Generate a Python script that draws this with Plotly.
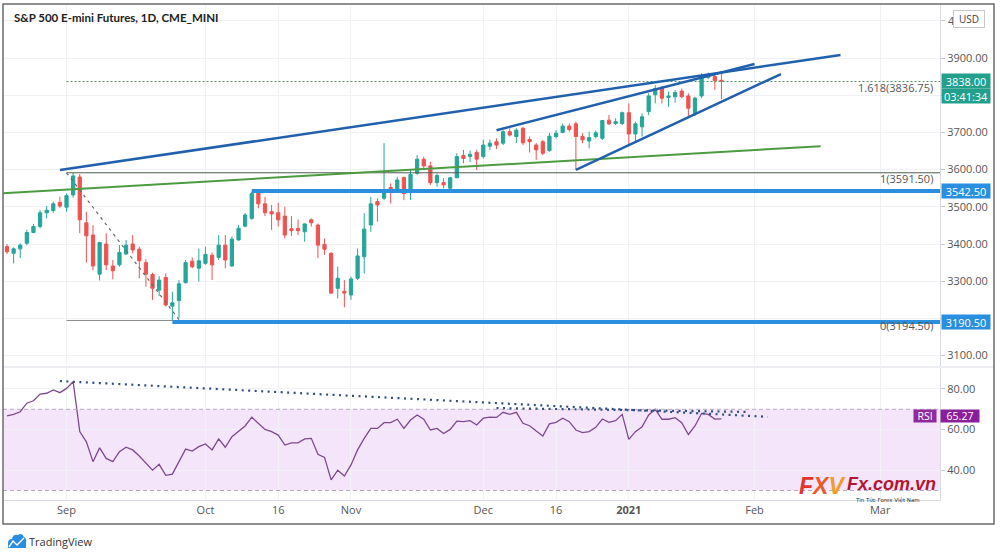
import plotly.graph_objects as go
import pandas as pd

# ---------------- calendar / categories ----------------
HOLIDAYS = ["2020-09-07", "2020-11-26", "2020-12-25", "2021-01-01", "2021-01-18", "2021-02-15"]
calendar = [d.strftime("%Y-%m-%d") for d in pd.bdate_range("2020-08-18", "2021-03-19")]
calendar = [d for d in calendar if d not in HOLIDAYS]
pos = {d: i for i, d in enumerate(calendar)}

dates = calendar[1:110]  # 2020-08-19 .. 2021-01-25

opens = [3393, 3375, 3387, 3402, 3431, 3447, 3484, 3490, 3512, 3499,
         3532, 3580, 3457, 3424, 3319, 3400, 3341, 3344, 3373, 3400,
         3386, 3350, 3318, 3276, 3310, 3233, 3248, 3296, 3354, 3335,
         3348, 3370, 3364, 3397, 3341, 3411, 3448, 3469, 3538, 3508,
         3487, 3484, 3475, 3441, 3442, 3433, 3465, 3451, 3399, 3375,
         3281, 3273, 3263, 3308, 3366, 3451, 3514, 3523, 3552, 3545,
         3579, 3545, 3590, 3628, 3610, 3565, 3565, 3550, 3578, 3638,
         3635, 3646, 3635, 3663, 3675, 3671, 3702, 3689, 3711, 3681,
         3666, 3675, 3651, 3689, 3700, 3717, 3723, 3689, 3677, 3689,
         3684, 3733, 3724, 3724, 3753, 3696, 3715, 3756, 3801, 3821,
         3794, 3796, 3811, 3798, 3751, 3798, 3848, 3850, 3840]
highs = [3400, 3391, 3402, 3438, 3454, 3491, 3502, 3514, 3527, 3536,
         3591.5, 3588, 3487, 3451, 3406, 3429, 3357, 3397, 3411, 3424,
         3393, 3359, 3323, 3314, 3321, 3272, 3303, 3357, 3364, 3388,
         3393, 3377, 3424, 3424, 3420, 3451, 3483, 3541, 3545, 3527,
         3505, 3511, 3500, 3475, 3466, 3456, 3469, 3455, 3415, 3378,
         3339, 3303, 3312, 3388, 3483, 3527, 3523, 3671, 3563, 3581,
         3581, 3599, 3639, 3635, 3621, 3590, 3577, 3581, 3644, 3653,
         3651, 3653, 3680, 3681, 3684, 3706, 3711, 3711, 3715, 3689,
         3671, 3680, 3698, 3706, 3724, 3724, 3729, 3698, 3702, 3705,
         3733, 3747, 3738, 3756, 3778, 3729, 3751, 3805, 3827, 3825,
         3810, 3814, 3818, 3805, 3796, 3859, 3861, 3857, 3859]
lows = [3373, 3348, 3362, 3397, 3429, 3442, 3469, 3484, 3496, 3487,
        3525, 3429, 3350, 3330, 3302, 3330, 3305, 3339, 3371, 3375,
        3308, 3285, 3250, 3260, 3232, 3194.5, 3201, 3294, 3335, 3299,
        3344, 3303, 3357, 3335, 3339, 3409, 3445, 3465, 3496, 3475,
        3438, 3447, 3415, 3422, 3424, 3406, 3447, 3362, 3371, 3266,
        3254, 3230, 3250, 3303, 3321, 3433, 3460, 3518, 3509, 3541,
        3518, 3518, 3586, 3599, 3559, 3554, 3550, 3545, 3577, 3617,
        3621, 3599, 3630, 3653, 3655, 3666, 3689, 3671, 3666, 3646,
        3626, 3639, 3648, 3684, 3698, 3702, 3599, 3671, 3657, 3684,
        3680, 3720, 3720, 3720, 3663, 3675, 3689, 3747, 3778, 3778,
        3769, 3780, 3792, 3744, 3744, 3792, 3843, 3814, 3789]
closes = [3379, 3387, 3397, 3431, 3447, 3484, 3491, 3508, 3502, 3530,
          3583, 3465, 3422, 3341, 3404, 3344, 3328, 3377, 3397, 3384,
          3355, 3319, 3281, 3303, 3236, 3242, 3293, 3350, 3339, 3355,
          3372, 3344, 3397, 3357, 3413, 3442, 3478, 3536, 3508, 3484,
          3481, 3465, 3424, 3436, 3436, 3454, 3457, 3397, 3386, 3268,
          3308, 3268, 3306, 3368, 3440, 3508, 3505, 3543, 3543, 3572,
          3536, 3587, 3628, 3610, 3565, 3584, 3559, 3578, 3635, 3630,
          3641, 3628, 3666, 3671, 3666, 3702, 3693, 3706, 3672, 3675,
          3653, 3644, 3690, 3698, 3717, 3708, 3689, 3680, 3686, 3699,
          3732, 3723, 3729, 3753, 3696, 3723, 3742, 3798, 3818, 3792,
          3798, 3807, 3796, 3765, 3792, 3850, 3854, 3839, 3838]
rsi = [66.7, 67.5, 68.8, 73.0, 74.2, 77.5, 77.9, 79.5, 78.2, 80.3,
       83.6, 59.0, 54.0, 44.2, 51.0, 45.8, 44.2, 49.1, 51.3, 50.0,
       47.0, 43.7, 40.0, 42.9, 37.5, 38.1, 44.2, 50.4, 49.4, 51.6,
       52.9, 50.0, 55.4, 51.3, 56.5, 59.0, 61.8, 66.1, 63.1, 60.1,
       59.0, 57.3, 52.4, 53.5, 53.5, 55.4, 55.7, 47.8, 46.3, 35.2,
       40.0, 37.1, 42.6, 50.0, 55.7, 60.6, 60.6, 63.4, 63.4, 65.1,
       60.6, 64.7, 67.2, 65.1, 59.8, 60.6, 58.1, 60.1, 64.2, 63.9,
       64.4, 62.3, 65.6, 66.1, 66.0, 68.5, 67.5, 68.5, 63.1, 61.9,
       59.3, 56.8, 62.8, 63.6, 65.6, 63.9, 59.8, 58.5, 59.0, 61.1,
       65.2, 63.6, 64.4, 67.5, 55.2, 59.0, 61.4, 67.2, 70.0, 65.1,
       65.1, 65.9, 63.4, 57.6, 61.8, 68.0, 67.5, 65.2, 65.27]

tick_dates = ["2020-09-01", "2020-10-01", "2020-10-16", "2020-11-02", "2020-12-01",
              "2020-12-16", "2021-01-04", "2021-02-01", "2021-03-01"]
tick_labels = ["Sep", "Oct", "16", "Nov", "Dec", "16", "<b>2021</b>", "Feb", "Mar"]
price_ticks = [3100, 3200, 3300, 3400, 3500, 3600, 3700, 3800, 3900, 4000]
hidden_price_ticks = [3200, 3800, 4000]  # covered by the axis labels in the reference
rsi_ticks = [40, 60, 80]

# drawings (date, value) pairs
upper_channel = (["2020-08-31", "2021-02-19"], [3599, 3908])
wedge_top = (["2020-12-03", "2021-02-01"], [3706, 3884])
wedge_bottom = (["2020-12-21", "2021-02-05"], [3599, 3857])
green_trend = (["2020-08-18", "2021-02-16"], [3536, 3663])
fib_diagonal = (["2020-09-01", "2020-09-25"], [3591.5, 3197])
fib_start = "2020-09-01"
fib_levels = [3591.5, 3836.75, 3194.5]
fib_labels = ["1(3591.50)", "1.618(3836.75)", "0(3194.50)"]
support_levels = [3542.5, 3190.5]
support_starts = ["2020-10-12", "2020-09-24"]
last_price = 3838.00
countdown = "03:41:34"
rsi_last = 65.27
rsi_upper, rsi_lower = 70, 30
rsi_line_a = (["2020-08-31", "2021-02-03"], [83.9, 66.3])
rsi_line_b = (["2020-12-03", "2021-01-29"], [70.6, 68.7])

# ---------------- styling / layout geometry ----------------
W, H = 1000, 558
PL, PR, PT, PB = 3, 940, 5, 500
X_MIN, X_MAX = 0.396, 142.04
Y_RANGE = [3072.1, 4042.5]
RSI_RANGE = [25.32, 90.34]
PRICE_DOM = [(PB - 366) / (PB - PT), 1]
RSI_DOM = [0, (PB - 368) / (PB - PT)]

GREEN = "#26a69a"
RED = "#ef5350"
GRID = "#f0f2f6"
AXLINE = "#d9dce3"
FONT = "Open Sans"


def px(xp):
    return (xp - PL) / (PR - PL)


def py(yp):
    return (PB - yp) / (PB - PT)


x = [pos[d] for d in dates]

fig = go.Figure()
fig.add_trace(go.Candlestick(
    x=x, open=opens, high=highs, low=lows, close=closes,
    increasing=dict(line=dict(color=GREEN, width=1), fillcolor=GREEN),
    decreasing=dict(line=dict(color=RED, width=1), fillcolor=RED),
    whiskerwidth=0, xaxis="x", yaxis="y", showlegend=False, hoverinfo="skip"))
fig.add_trace(go.Scatter(
    x=x, y=rsi, mode="lines", line=dict(color="#7e4a8e", width=1.3),
    xaxis="x2", yaxis="y2", showlegend=False, hoverinfo="skip"))

shapes = []
# RSI band
shapes.append(dict(type="rect", xref="paper", yref="y2", x0=0, x1=1, y0=rsi_lower, y1=rsi_upper,
                   fillcolor="#f4e5fb", line=dict(width=0), layer="below"))
for lv in (rsi_upper, rsi_lower):
    shapes.append(dict(type="line", xref="paper", yref="y2", x0=0, x1=1, y0=lv, y1=lv,
                       line=dict(color="#b8a9c4", width=1, dash="4px,3px")))
# pane separator and frame
shapes.append(dict(type="line", xref="paper", yref="paper", x0=0, x1=px(994), y0=py(367), y1=py(367),
                   line=dict(color=AXLINE, width=1)))
shapes.append(dict(type="rect", xref="paper", yref="paper", x0=px(3), x1=px(994), y0=py(524), y1=py(4),
                   line=dict(color="#6b6b6b", width=1.5)))

# fib levels
fib_styles = [dict(color="#4f5f4f", width=1), dict(color="#4f8f5f", width=1, dash="2px,2px"),
              dict(color="#8a8a8a", width=1)]
for lv, st in zip(fib_levels, fib_styles):
    shapes.append(dict(type="line", xref="x", yref="y", x0=pos[fib_start], x1=X_MAX, y0=lv, y1=lv, line=st))
shapes.append(dict(type="line", xref="x", yref="y",
                   x0=pos[fib_diagonal[0][0]], x1=pos[fib_diagonal[0][1]],
                   y0=fib_diagonal[1][0], y1=fib_diagonal[1][1],
                   line=dict(color="#6a6a6a", width=1.2, dash="3px,4px")))
# support levels
for lv, st in zip(support_levels, support_starts):
    shapes.append(dict(type="line", xref="x", yref="y", x0=pos[st], x1=X_MAX, y0=lv, y1=lv,
                       line=dict(color="#2b8fdf", width=4)))
# trend lines
for ln, col, wd in [(green_trend, "#4c9b40", 2), (upper_channel, "#2160ad", 2.5),
                    (wedge_top, "#2160ad", 2.5), (wedge_bottom, "#2160ad", 2.5)]:
    shapes.append(dict(type="line", xref="x", yref="y", x0=pos[ln[0][0]], x1=pos[ln[0][1]],
                       y0=ln[1][0], y1=ln[1][1], line=dict(color=col, width=wd)))
# RSI dotted trend lines
for ln in (rsi_line_a, rsi_line_b):
    shapes.append(dict(type="line", xref="x2", yref="y2", x0=pos[ln[0][0]], x1=pos[ln[0][1]],
                       y0=ln[1][0], y1=ln[1][1], line=dict(color="#2f4f80", width=2.2, dash="2px,4.5px")))


# TradingView logo (simple cloud)
def P(a, b):
    return f"{px(a):.5f},{py(b):.5f}"


cloud = (f"M {P(8,548)} L {P(8,543)} Q {P(8,539)} {P(12,539)} Q {P(13,534)} {P(18,535)} "
         f"Q {P(22,532)} {P(24,537)} Q {P(27,538)} {P(26,544)} L {P(26,548)} Z")
shapes.append(dict(type="path", xref="paper", yref="paper", path=cloud,
                   fillcolor="#2a8ee0", line=dict(width=0)))
shapes.append(dict(type="path", xref="paper", yref="paper",
                   path=f"M {P(9,547)} L {P(13,541)} L {P(17,545)} L {P(24,538)}",
                   line=dict(color="white", width=1.4)))

ann = []
ann.append(dict(xref="paper", yref="paper", x=px(12), y=py(18), xanchor="left", yanchor="middle",
                text="<b>S&P 500 E-mini Futures, 1D, CME_MINI</b>", showarrow=False,
                font=dict(family="Lato", size=11.5, color="#222")))
# partially hidden "4000.00" tick behind the USD badge
ann.append(dict(xref="paper", yref="y", x=px(946), y=4000, xanchor="left", yanchor="middle",
                text="4", showarrow=False, font=dict(family=FONT, size=11, color="#555")))
ann.append(dict(xref="paper", yref="paper", x=px(969), y=py(19.5), xanchor="center", yanchor="middle",
                text="USD", showarrow=False, bgcolor="white", bordercolor="#c8c8c8", borderwidth=1,
                borderpad=1, width=28, font=dict(family=FONT, size=10, color="#444")))
# fib labels
for lv, tx in zip(fib_levels, fib_labels):
    ann.append(dict(xref="paper", yref="y", x=px(935), y=lv, xanchor="right", yanchor="top", yshift=4,
                    text=tx, showarrow=False, font=dict(family=FONT, size=11, color="#555")))
# price axis labels
ann.append(dict(xref="paper", yref="y", x=px(966), y=last_price, xanchor="center", yanchor="middle",
                text=f"{last_price:.2f}", showarrow=False, bgcolor="#22a08b", width=48, height=14,
                borderpad=0, font=dict(family=FONT, size=11, color="white")))
ann.append(dict(xref="paper", yref="y", x=px(966), y=last_price, yshift=-15, xanchor="center",
                yanchor="middle", text=countdown, showarrow=False, bgcolor="#22a08b", width=48,
                height=14, borderpad=0, font=dict(family=FONT, size=11, color="white")))
for lv in support_levels:
    ann.append(dict(xref="paper", yref="y", x=px(966), y=lv, xanchor="center", yanchor="middle",
                    text=f"{lv:.2f}", showarrow=False, bgcolor="#2b8fdf", width=48, height=14,
                    borderpad=0, font=dict(family=FONT, size=11, color="white")))
ann.append(dict(xref="paper", yref="y2", x=px(925), y=rsi_last, yshift=3, xanchor="center",
                yanchor="middle", text="RSI", showarrow=False, bgcolor="#8e2a9e", width=22, height=12,
                borderpad=0, font=dict(family=FONT, size=10.5, color="white")))
ann.append(dict(xref="paper", yref="y2", x=px(960), y=rsi_last, yshift=3, xanchor="center",
                yanchor="middle", text=f"{rsi_last:.2f}", showarrow=False, bgcolor="#8a1f9c", width=38,
                height=12, borderpad=0, font=dict(family=FONT, size=10.5, color="white")))
# watermark
ann.append(dict(xref="paper", yref="paper", x=px(797), y=py(486), xanchor="left", yanchor="middle",
                text="<b><i><span style='color:#e3342a'>F</span><span style='color:#ea5a2a'>X</span>"
                     "<span style='color:#f39a2a'>V</span></i></b>",
                showarrow=False, font=dict(family="Liberation Sans", size=23)))
ann.append(dict(xref="paper", yref="paper", x=px(845), y=py(484), xanchor="left", yanchor="middle",
                text="<b><i>Fx.com.vn</i></b>", showarrow=False,
                font=dict(family="Liberation Sans", size=18, color="#b3162f")))
ann.append(dict(xref="paper", yref="paper", x=px(853), y=py(500), xanchor="left", yanchor="middle",
                text="Tin Tức Forex Việt Nam", showarrow=False,
                font=dict(family="DejaVu Sans", size=5.5, color="#333")))
ann.append(dict(xref="paper", yref="paper", x=px(27), y=py(541), xanchor="left", yanchor="middle",
                text="TradingView", showarrow=False, font=dict(family=FONT, size=11, color="#333")))

tick_pos = [pos[d] for d in tick_dates]
axis_font = dict(family=FONT, size=11, color="#555")

fig.update_layout(
    width=W, height=H, paper_bgcolor="white", plot_bgcolor="white",
    margin=dict(l=PL, r=W - PR, t=PT, b=H - PB),
    showlegend=False, shapes=shapes, annotations=ann,
    xaxis=dict(domain=[0, 1], anchor="y", range=[X_MIN, X_MAX], tickvals=tick_pos,
               showticklabels=False, showgrid=True, gridcolor=GRID, zeroline=False,
               rangeslider=dict(visible=False), ticks=""),
    xaxis2=dict(domain=[0, 1], anchor="y2", matches="x", range=[X_MIN, X_MAX], tickvals=tick_pos,
                ticktext=tick_labels, showgrid=True, gridcolor=GRID, zeroline=False, ticks="",
                showline=True, linecolor=AXLINE, tickfont=axis_font),
    yaxis=dict(domain=PRICE_DOM, anchor="x", side="right", range=Y_RANGE, tickvals=price_ticks,
               ticktext=["" if v in hidden_price_ticks else f"{v:.2f}" for v in price_ticks],
               showgrid=True, gridcolor=GRID,
               zeroline=False, ticks="outside", ticklen=4, tickcolor="#c4c7ce", showline=True,
               linecolor=AXLINE, tickfont=axis_font),
    yaxis2=dict(domain=RSI_DOM, anchor="x2", side="right", range=RSI_RANGE, tickvals=rsi_ticks,
                ticktext=[f"{v:.2f}" for v in rsi_ticks], showgrid=True, gridcolor=GRID,
                zeroline=False, ticks="outside", ticklen=4, tickcolor="#c4c7ce", showline=True,
                linecolor=AXLINE, tickfont=axis_font),
)

fig.write_html("out.html", config={"displayModeBar": False},
               post_script="document.body.style.margin='0';document.body.style.overflow='hidden';")
